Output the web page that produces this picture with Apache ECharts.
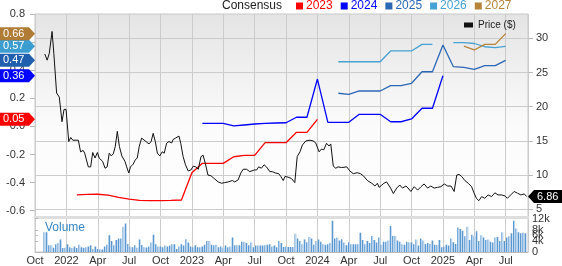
<!DOCTYPE html>
<html><head><meta charset="utf-8">
<script src="https://cdn.jsdelivr.net/npm/echarts@6/dist/echarts.min.js"></script>
<style>html,body{margin:0;padding:0;background:#fff}#c{width:562px;height:266px}</style>
</head><body><div id="c"></div>
<script>
// ---------- data ----------
const priceDates = ['2021-10-30','2021-11-06','2021-11-12','2021-11-20','2021-11-25','2021-12-03','2021-12-11','2021-12-19','2021-12-25','2021-12-31',
'2022-01-08','2022-01-14','2022-01-20','2022-02-05','2022-02-11','2022-02-18','2022-02-22','2022-03-04','2022-03-11','2022-03-17','2022-03-24','2022-03-31',
'2022-04-05','2022-04-10','2022-04-15','2022-04-22','2022-04-28','2022-05-04','2022-05-10','2022-05-16','2022-05-22','2022-05-28','2022-06-03','2022-06-10',
'2022-06-19','2022-06-24','2022-06-30','2022-07-05','2022-07-13','2022-07-19','2022-07-25','2022-07-31','2022-08-07','2022-08-12','2022-08-20','2022-08-29',
'2022-09-04','2022-09-10','2022-09-16','2022-09-22','2022-09-29','2022-10-06','2022-10-12','2022-10-19','2022-10-26','2022-11-03','2022-11-07','2022-11-14',
'2022-11-24','2022-11-29','2022-12-06','2022-12-13','2022-12-21','2022-12-29','2023-01-05','2023-01-12','2023-01-20','2023-01-28','2023-02-03','2023-02-09',
'2023-02-16','2023-02-24','2023-03-05','2023-03-17','2023-03-27','2023-04-05','2023-04-15','2023-04-27','2023-05-04','2023-05-14','2023-05-22','2023-05-29',
'2023-06-08','2023-06-17','2023-06-22','2023-06-30','2023-07-07','2023-07-13','2023-07-21','2023-07-29','2023-08-05','2023-08-15','2023-08-22','2023-09-01',
'2023-09-10','2023-09-16','2023-09-23','2023-09-28','2023-10-07','2023-10-17','2023-10-27','2023-11-03','2023-11-11','2023-11-18','2023-11-28','2023-12-10',
'2023-12-19','2023-12-27','2024-01-06','2024-01-13','2024-01-20','2024-01-28','2024-02-04','2024-02-09','2024-02-16','2024-02-23','2024-02-29','2024-03-11',
'2024-03-26','2024-04-04','2024-04-14','2024-04-25','2024-05-05','2024-05-13','2024-05-25','2024-06-07','2024-06-16','2024-06-23','2024-06-28','2024-07-05',
'2024-07-12','2024-07-20','2024-07-25','2024-08-01','2024-08-09','2024-08-19','2024-08-28','2024-09-05','2024-09-15','2024-09-21','2024-09-29','2024-10-09',
'2024-10-19','2024-10-29','2024-11-07','2024-11-17','2024-11-26','2024-12-06','2024-12-16','2024-12-26','2025-01-05','2025-01-15','2025-01-25','2025-02-03',
'2025-02-10','2025-02-16','2025-02-23','2025-03-04','2025-03-14','2025-03-24','2025-03-31','2025-04-07','2025-04-14','2025-04-22','2025-05-01','2025-05-11',
'2025-05-21','2025-05-31','2025-06-09','2025-06-19','2025-06-29','2025-07-06','2025-07-16','2025-07-26','2025-08-05','2025-08-15','2025-08-25','2025-09-01'];
const priceValues = [27.7,26.8,27.8,31.0,27.8,22.0,21.4,17.8,19.6,19.6,
14.9,15.5,15.1,15.1,13.4,13.6,13.2,11.2,11.2,13.3,12.5,13.3,
12.5,12.7,12.0,11.0,11.2,13.2,12.8,13.1,14.2,16.4,14.2,12.8,
12.0,11.2,10.3,11.2,11.6,12.2,12.5,14.2,15.4,15.6,14.9,14.55,
14.9,16.1,14.9,13.2,12.8,13.4,13.2,14.65,14.9,14.7,15.2,15.4,
15.7,14.65,12.7,11.5,10.6,10.75,11.3,11.2,10.85,12.7,12.9,11.7,
10.0,9.9,9.5,9.0,8.8,8.9,9.0,9.2,9.0,9.3,10.3,10.85,
10.85,10.5,10.3,10.75,10.75,11.2,11.0,11.5,11.2,10.5,10.5,10.3,
10.2,9.8,9.2,9.8,9.7,9.5,8.9,12.7,13.4,14.4,15.0,15.1,
15.0,14.7,13.4,13.8,13.7,14.65,14.25,14.55,11.3,11.0,11.2,11.1,
11.2,10.6,10.2,10.35,10.2,9.9,9.2,8.8,8.4,8.8,8.2,8.5,
8.8,9.0,9.0,8.1,7.3,8.1,8.55,8.1,8.4,8.1,7.6,8.3,
7.8,8.3,8.7,8.1,8.4,8.1,8.2,8.3,8.7,8.4,8.4,7.6,
10.0,10.1,9.8,9.2,8.8,8.3,7.4,6.6,6.25,6.85,6.6,7.1,
6.85,7.4,7.1,7.1,6.95,6.6,7.1,7.6,7.35,7.1,7.25,6.86];

// consensus EPS (monthly, first value at the start month)
const consensusYears = ['2023','2024','2025','2026','2027'];
const eps2023Start = '2022-02';
const eps2023 = [-0.488,-0.484,-0.483,-0.49,-0.505,-0.518,-0.527,-0.528,-0.528,-0.527,-0.524,-0.33,-0.263,-0.263,-0.263,-0.216,-0.206,-0.206,-0.116,-0.116,-0.116,-0.042,-0.042,0.05];
const eps2024Start = '2023-02';
const eps2024 = [0.022,0.022,0.022,0.003,0.01,0.017,0.022,0.024,0.026,0.065,0.065,0.337,0.029,0.029,0.029,0.086,0.086,0.086,0.033,0.033,0.053,0.129,0.129,0.36];
const eps2025Start = '2024-03';
const eps2025 = [0.236,0.228,0.252,0.252,0.252,0.29,0.29,0.307,0.389,0.389,0.579,0.425,0.42,0.406,0.432,0.432,0.47];
const eps2026Start = '2024-03';
const eps2026 = [0.46,0.46,0.46,0.46,0.46,0.537,0.537,0.537,0.584,0.584,null,0.596,0.596,0.59,0.567,0.56,0.57];
const eps2027Start = '2025-03';
const eps2027 = [0.572,0.544,0.584,0.584,0.66];

// weekly volume, thousands of shares
const volumeFirst = '2021-10-29';
const volumeLast = '2025-08-29';
const volumeK = [7.1,7.1,2.4,2.4,1.5,2.8,3.2,4.5,1.4,1.5,2.8,1.7,1.4,2.0,1.4,2.6,1.7,1.5,1.7,2.0,2.4,1.1,2.0,1.1,0.9,0.9,2.0,2.6,6.0,4.0,
2.4,4.3,4.9,4.9,9.1,10.3,2.9,2.0,1.7,2.4,1.5,4.5,2.5,1.7,1.6,2.0,3.4,6.2,2.8,2.0,2.0,1.7,2.3,2.0,2.3,2.8,2.8,1.1,2.0,2.8,
2.3,4.6,3.4,2.0,1.7,2.4,1.7,1.7,2.0,2.6,4.0,4.0,2.6,2.4,2.6,1.7,2.0,1.5,2.3,1.7,2.0,5.2,2.4,2.4,2.4,3.7,3.7,3.2,2.4,3.4,
1.7,2.3,2.3,2.3,2.3,2.4,2.6,2.8,2.0,2.3,1.7,4.0,3.2,
1.8,2.0,1.8,1.8,1.8,6.6,4.9,4.0,2.8,4.5,3.5,5.4,4.9,2.6,4.0,4.5,3.7,2.8,2.6,2.8,3.2,11.3,4.9,5.2,4.1,4.6,3.4,2.4,3.5,2.8,
2.8,2.8,2.8,6.9,4.3,2.8,4.0,3.2,5.8,4.3,3.4,5.2,2.6,3.7,3.7,4.1,9.4,5.8,5.8,4.1,3.7,2.8,2.6,3.7,3.5,3.4,2.8,4.5,2.3,4.9,
4.1,2.9,3.2,2.9,4.1,2.6,2.6,4.3,1.7,2.0,2.6,2.3,4.9,3.5,2.9,8.8,8.3,7.7,5.7,9.1,4.3,6.2,5.7,7.5,4.0,6.0,5.2,4.3,4.5,3.7,
3.4,5.2,5.4,4.0,7.1,4.0,5.2,5.7,6.8,11.3,8.5,7.1,6.8,6.9,6.8];

// axis ticks
const epsTicks = [-0.6,-0.4,-0.2,0,0.2,0.4,0.6,0.8];
const priceTicks = [5,10,15,20,25,30];
const volumeTicks = [0,2,4,6,8,10,12];
const quarterTicks = [0,3,6,9,12,15,18,21,24,27,30,33,36,39,42,45]; // months since Oct 2021
const monthNames = ['Jan','Feb','Mar','Apr','May','Jun','Jul','Aug','Sep','Oct','Nov','Dec'];
const axisStart = '2021-10-01';
const axisEnd = '2025-09-05';

// ---------- helpers ----------
function dim(y, m) { return new Date(y, m, 0).getDate(); }
function toM(s) { const p = s.split('-').map(Number); const d = p[2] || 1; return (p[0] - 2021) * 12 + (p[1] - 10) + (d - 1) / dim(p[0], p[1]); }
function consSeries(start, vals) { const m0 = toM(start); return vals.map((v, i) => [m0 + i, v]); }

const FONT = '"Liberation Sans", Arial, sans-serif';
const colors = { '2023': '#ff0000', '2024': '#0000ff', '2025': '#2a68b5', '2026': '#46a2d4', '2027': '#b5843a' };
const tagColors = { '2023': '#ff0000', '2024': '#0000ff', '2025': '#1f5fae', '2026': '#3c9dd0', '2027': '#b07c35' };
const epsData = { '2023': [eps2023Start, eps2023], '2024': [eps2024Start, eps2024], '2025': [eps2025Start, eps2025], '2026': [eps2026Start, eps2026], '2027': [eps2027Start, eps2027] };

const priceData = priceDates.map((d, i) => [toM(d), priceValues[i]]);
const vm0 = toM(volumeFirst), vm1 = toM(volumeLast);
const volumeData = volumeK.map((v, i) => [vm0 + (vm1 - vm0) * i / (volumeK.length - 1), v]);

const xMin = toM(axisStart), xMax = toM(axisEnd);
function xLabel(v) {
  const r = Math.round(v);
  if (Math.abs(v - r) > 1e-6 || r % 3 !== 0) return '';
  const mi = (9 + r) % 12;
  const yr = 2021 + Math.floor((9 + r) / 12);
  return mi === 0 ? String(yr) : monthNames[mi];
}

const chart = echarts.init(document.getElementById('c'), null, { renderer: 'canvas' });

const series = consensusYears.map(y => ({
  name: y, type: 'line', xAxisIndex: 0, yAxisIndex: 0,
  data: consSeries(epsData[y][0], epsData[y][1]),
  showSymbol: false, connectNulls: false, animation: false,
  lineStyle: { color: colors[y], width: 1.3 }, itemStyle: { color: colors[y] }
}));
series.push({
  name: 'Price ($)', type: 'line', xAxisIndex: 0, yAxisIndex: 1, data: priceData,
  showSymbol: false, animation: false, lineStyle: { color: '#111', width: 1 }, itemStyle: { color: '#111' }, z: 3
});
series.push({
  name: 'Volume', type: 'bar', xAxisIndex: 1, yAxisIndex: 2, data: volumeData, barWidth: 2, animation: false,
  itemStyle: { color: { type: 'linear', x: 0, y: 0, x2: 1, y2: 0, colorStops: [{ offset: 0, color: '#5b98d0' }, { offset: 0.5, color: '#5b98d0' }, { offset: 0.5, color: '#b9d4ee' }, { offset: 1, color: '#b9d4ee' }] } }
});

const gridLine = { show: true, lineStyle: { color: '#cccccc', width: 1 } };
const labelStyle = { color: '#333', fontSize: 11, fontFamily: FONT, showMinLabel: true, showMaxLabel: true, hideOverlap: false };

chart.setOption({
  animation: false,
  backgroundColor: '#fff',
  textStyle: { fontFamily: FONT },
  title: [
    { text: 'Consensus', left: 222, top: 0, padding: 0, textStyle: { fontSize: 12, fontWeight: 'normal', color: '#222', fontFamily: FONT } },
    { text: 'Volume', left: 45, top: 222, padding: 0, textStyle: { fontSize: 12, fontWeight: 'normal', color: '#3a86c6', fontFamily: FONT } }
  ],
  legend: [
    { data: consensusYears.map(y => ({ name: y, textStyle: { color: colors[y] } })), left: 296, top: 0, padding: 0,
      icon: 'rect', itemWidth: 7, itemHeight: 7, itemGap: 8, selectedMode: false,
      textStyle: { fontSize: 12, fontFamily: FONT, padding: [0, 0, 0, -2] } },
    { data: ['Price ($)'], left: 464, top: 20, padding: 0, icon: 'rect', itemWidth: 9, itemHeight: 5, selectedMode: false,
      textStyle: { fontSize: 10, color: '#222', fontFamily: FONT } }
  ],
  grid: [
    { left: 35, top: 14, width: 493, height: 203, show: true, borderColor: '#c8c8c8', borderWidth: 1,
      backgroundColor: { type: 'linear', x: 0, y: 0, x2: 0, y2: 1, colorStops: [{ offset: 0, color: '#e4e4e4' }, { offset: 0.55, color: '#fbfbfb' }, { offset: 1, color: '#ffffff' }] } },
    { left: 35, top: 218, width: 493, height: 36, show: true, borderColor: '#c8c8c8', borderWidth: 1, backgroundColor: '#fff' }
  ],
  xAxis: [
    { type: 'value', gridIndex: 0, min: xMin, max: xMax, minInterval: 3, maxInterval: 3,
      axisLine: { show: true, onZero: false, lineStyle: { color: '#dedede', width: 3 } }, axisTick: { show: false }, axisLabel: { show: false },
      splitLine: gridLine },
    { type: 'value', gridIndex: 1, min: xMin, max: xMax, minInterval: 3, maxInterval: 3,
      axisLine: { show: true, onZero: false, lineStyle: { color: '#bbbbbb' } }, axisTick: { show: false },
      axisLabel: Object.assign({}, labelStyle, { margin: 3, formatter: xLabel, customValues: quarterTicks }),
      splitLine: gridLine }
  ],
  yAxis: [
    { type: 'value', gridIndex: 0, position: 'left', min: -0.645, max: 0.8, minInterval: 0.2, maxInterval: 0.2,
      axisLine: { show: false }, axisTick: { show: true, length: 5, lineStyle: { color: '#bbbbbb' }, customValues: epsTicks },
      axisLabel: Object.assign({}, labelStyle, { margin: 10, customValues: epsTicks, formatter: v => (Math.abs(v) < 1e-9 ? 0 : v).toFixed(1) }),
      splitLine: { show: false } },
    { type: 'value', gridIndex: 0, position: 'right', min: 3.87, max: 33.55, minInterval: 5, maxInterval: 5,
      axisLine: { show: false }, axisTick: { show: true, length: 5, lineStyle: { color: '#bbbbbb' }, customValues: priceTicks },
      axisLabel: Object.assign({}, labelStyle, { margin: 8, customValues: priceTicks, formatter: v => (v % 5 === 0 ? String(v) : '') }),
      splitLine: gridLine },
    { type: 'value', gridIndex: 1, position: 'right', min: 0, max: 12.25, minInterval: 2, maxInterval: 2,
      axisLine: { show: false }, axisTick: { show: true, length: 3, lineStyle: { color: '#bbbbbb' }, customValues: volumeTicks },
      axisLabel: Object.assign({}, labelStyle, { margin: 4, customValues: volumeTicks, formatter: v => (v % 2 !== 0 ? '' : (v === 0 ? '0' : v + 'k')) }),
      splitLine: { show: false } }
  ],
  series: series
});

// value tags drawn at positions from the axes' scales
const graphics = [];
consensusYears.forEach(y => {
  const vals = epsData[y][1];
  const last = vals[vals.length - 1];
  const py = chart.convertToPixel({ yAxisIndex: 0 }, last);
  graphics.push({ type: 'polygon', shape: { points: [[0, py - 6.5], [29, py - 6.5], [35, py], [29, py + 6.5], [0, py + 6.5]] }, style: { fill: tagColors[y] }, z: 100 });
  graphics.push({ type: 'text', x: 3, y: py, style: { text: last.toFixed(2), fill: '#fff', font: '11px ' + FONT, verticalAlign: 'middle' }, z: 101 });
});
const lastPrice = priceValues[priceValues.length - 1];
const ppy = chart.convertToPixel({ yAxisIndex: 1 }, lastPrice);
graphics.push({ type: 'polygon', shape: { points: [[528, ppy], [534, ppy - 6.5], [562, ppy - 6.5], [562, ppy + 6.5], [534, ppy + 6.5]] }, style: { fill: '#000' }, z: 100 });
graphics.push({ type: 'text', x: 537, y: ppy, style: { text: lastPrice.toFixed(2), fill: '#fff', font: '11px ' + FONT, verticalAlign: 'middle' }, z: 101 });
chart.setOption({ graphic: graphics });
</script>
</body></html>
